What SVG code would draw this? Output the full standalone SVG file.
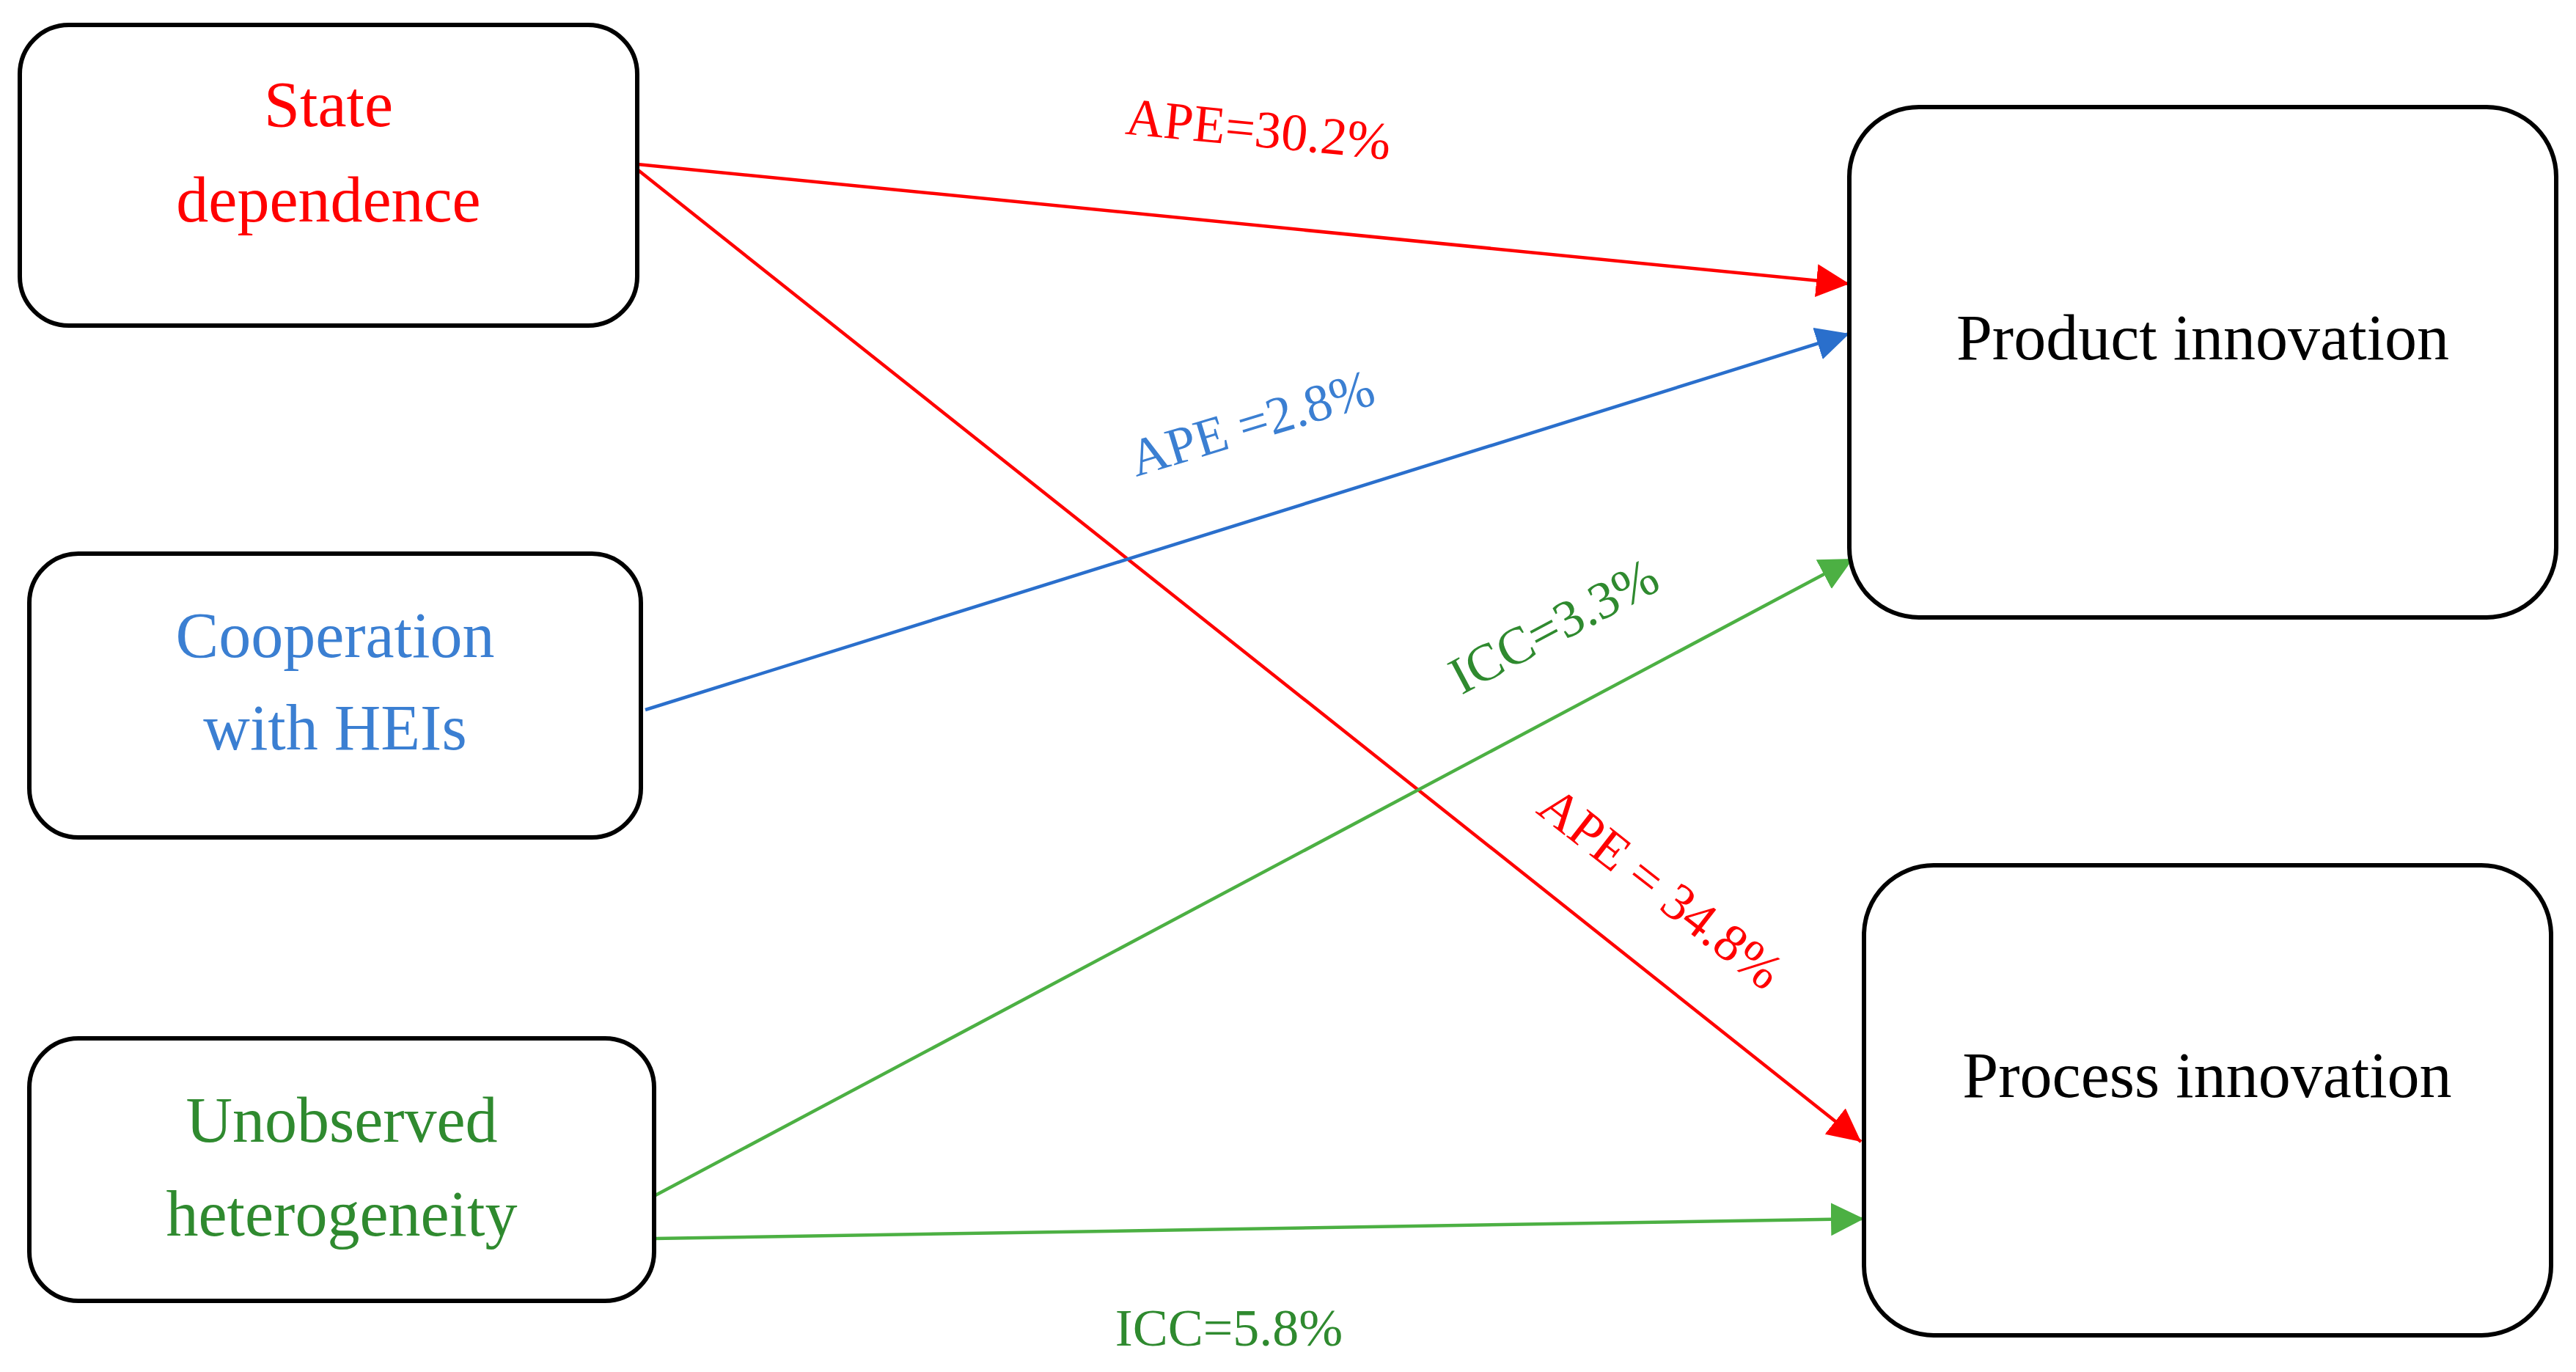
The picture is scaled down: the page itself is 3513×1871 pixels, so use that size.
<svg xmlns="http://www.w3.org/2000/svg" width="3513" height="1871" viewBox="0 0 3513 1871">
<style>
.box{fill:#fff;stroke:#000;stroke-width:6}
text{font-family:"Liberation Serif","DejaVu Serif",serif;text-anchor:middle}
.n{font-size:88px}
.l{font-size:72px}
.r{fill:#ff0000}.b{fill:#3b7fd2}.g{fill:#2f8a2f}.k{fill:#000}
</style>
<defs>
<marker id="ar" viewBox="0 0 10 10" refX="10" refY="5" markerWidth="10" markerHeight="10" orient="auto"><path d="M0,0L10,5L0,10z" fill="#ff0000"/></marker>
<marker id="ab" viewBox="0 0 10 10" refX="10" refY="5" markerWidth="10" markerHeight="10" orient="auto"><path d="M0,0L10,5L0,10z" fill="#2a6fcc"/></marker>
<marker id="ag" viewBox="0 0 10 10" refX="10" refY="5" markerWidth="10" markerHeight="10" orient="auto"><path d="M0,0L10,5L0,10z" fill="#4cb043"/></marker>
</defs>
<g id="connectors" fill="none" stroke-width="4.5">
<line x1="869" y1="224" x2="2522" y2="387" stroke="#ff0000" marker-end="url(#ar)"/>
<line x1="869" y1="231" x2="2538" y2="1557" stroke="#ff0000" marker-end="url(#ar)"/>
<line x1="880" y1="968" x2="2522" y2="455" stroke="#2a6fcc" marker-end="url(#ab)"/>
<line x1="892" y1="1631" x2="2527" y2="762" stroke="#4cb043" marker-end="url(#ag)"/>
<line x1="892" y1="1689" x2="2542" y2="1662" stroke="#4cb043" marker-end="url(#ag)"/>
</g>
<g id="labels">
<text class="l r" transform="translate(1714,200) rotate(5.5)">APE=30.2%</text>
<text class="l b" transform="translate(1714,600) rotate(-17)">APE =2.8%</text>
<text class="l g" transform="translate(2130,875) rotate(-28)">ICC=3.3%</text>
<text class="l r" transform="translate(2250,1230) rotate(38)">APE = 34.8%</text>
<text class="l g" x="1676" y="1835">ICC=5.8%</text>
</g>
<g id="state"><rect class="box" x="27" y="34" width="842" height="410" rx="67"/>
<text class="n r" x="448" y="172">State</text><text class="n r" x="448" y="302">dependence</text></g>
<g id="coop"><rect class="box" x="40" y="755" width="834" height="387" rx="67"/>
<text class="n b" x="457" y="896">Cooperation</text><text class="n b" x="457" y="1022">with HEIs</text></g>
<g id="unobs"><rect class="box" x="40" y="1416" width="852" height="358" rx="67"/>
<text class="n g" x="466" y="1557">Unobserved</text><text class="n g" x="466" y="1685">heterogeneity</text></g>
<g id="product"><rect class="box" x="2522" y="146" width="964" height="696" rx="95"/>
<text class="n k" x="3004" y="490">Product innovation</text></g>
<g id="process"><rect class="box" x="2542" y="1180" width="937" height="641" rx="95"/>
<text class="n k" x="3010" y="1496">Process innovation</text></g>
</svg>
